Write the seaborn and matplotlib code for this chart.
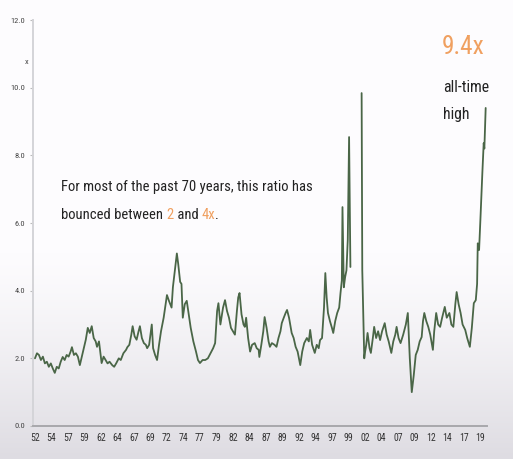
import numpy as np
import pandas as pd
import matplotlib
matplotlib.use("Agg")
import matplotlib.pyplot as plt
import seaborn as sns

# Ratio history, 1952 onward (two stretches; no readings between late 1999 and mid 2001)
years_a = [
    1952.0, 1952.3, 1952.6, 1952.9, 1953.2, 1953.5, 1953.8, 1954.1, 1954.4, 1954.7,
    1955.0, 1955.3, 1955.6, 1955.9, 1956.2, 1956.5, 1956.8, 1957.1, 1957.4, 1957.6,
    1957.9, 1958.2, 1958.5, 1958.8, 1959.1, 1959.4, 1959.7, 1960.0, 1960.3, 1960.6,
    1960.9, 1961.2, 1961.4, 1961.7, 1962.1, 1962.4, 1962.7, 1963.0, 1963.3, 1963.7,
    1964.0, 1964.3, 1964.7, 1965.0, 1965.4, 1965.8, 1966.0, 1966.3, 1966.6, 1966.8,
    1967.1, 1967.4, 1967.7, 1967.9, 1968.2, 1968.5, 1968.8, 1969.0, 1969.3, 1969.7,
    1969.9, 1970.2, 1970.5, 1970.8, 1971.1, 1971.5, 1971.8, 1972.0, 1972.3, 1972.7,
    1972.9, 1973.2, 1973.5, 1973.7, 1974.0, 1974.2, 1974.4, 1974.7, 1975.0, 1975.3,
    1975.6, 1976.0, 1976.4, 1976.7, 1977.0, 1977.4, 1977.8, 1978.2, 1978.6, 1979.0,
    1979.3, 1979.6, 1979.8, 1980.1, 1980.5, 1980.8, 1981.1, 1981.4, 1981.7, 1982.0,
    1982.3, 1982.6, 1982.8, 1983.0, 1983.3, 1983.6, 1983.8, 1984.0, 1984.3, 1984.6,
    1984.9, 1985.3, 1985.6, 1985.9, 1986.0, 1986.3, 1986.6, 1986.8, 1987.1, 1987.4,
    1987.6, 1987.9, 1988.3, 1988.6, 1988.9, 1989.2, 1989.4, 1989.7, 1990.0, 1990.2,
    1990.5, 1990.9, 1991.2, 1991.5, 1991.8, 1992.2, 1992.5, 1992.8, 1993.2, 1993.5,
    1993.7, 1994.0, 1994.4, 1994.7, 1995.0, 1995.2, 1995.5, 1995.8, 1996.0, 1996.2,
    1996.4, 1996.7, 1997.0, 1997.2, 1997.5, 1997.8, 1998.1, 1998.3, 1998.5, 1998.6,
    1998.8, 1999.0, 1999.2, 1999.4, 1999.6, 1999.8,
]
ratio_a = [
    2.00, 2.15, 2.10, 1.95, 2.05, 1.85, 1.90, 1.75, 1.85, 1.70,
    1.57, 1.75, 1.70, 1.90, 2.04, 1.95, 2.10, 2.05, 2.20, 2.33,
    2.10, 2.15, 2.05, 1.80, 2.05, 2.30, 2.55, 2.90, 2.75, 2.95,
    2.60, 2.50, 2.34, 2.50, 1.86, 2.05, 1.95, 1.85, 1.90, 1.80,
    1.75, 1.85, 2.00, 1.95, 2.15, 2.25, 2.33, 2.40, 2.70, 2.95,
    2.65, 2.55, 2.80, 2.95, 2.60, 2.45, 2.40, 2.30, 2.40, 3.00,
    2.30, 2.10, 1.95, 2.40, 2.80, 3.20, 3.60, 3.87, 3.70, 3.50,
    4.10, 4.60, 5.10, 4.80, 4.26, 4.20, 3.20, 3.60, 3.70, 3.30,
    2.90, 2.50, 2.20, 1.95, 1.86, 1.95, 1.95, 2.00, 2.15, 2.30,
    2.45, 3.40, 3.63, 3.00, 3.50, 3.72, 3.40, 3.20, 2.90, 2.80,
    2.70, 3.40, 3.80, 3.93, 3.30, 3.00, 2.93, 3.20, 2.60, 2.20,
    2.40, 2.45, 2.30, 2.25, 2.04, 2.40, 2.80, 3.22, 2.90, 2.50,
    2.34, 2.45, 2.40, 2.34, 2.60, 2.80, 3.04, 3.20, 3.35, 3.43,
    3.20, 2.75, 2.60, 2.34, 2.20, 1.80, 2.20, 2.45, 2.60, 2.50,
    2.84, 2.40, 2.16, 2.40, 2.30, 2.54, 2.60, 3.50, 4.52, 3.80,
    3.34, 3.10, 2.90, 2.75, 3.10, 3.34, 3.50, 3.93, 4.30, 6.47,
    4.10, 4.40, 4.60, 5.50, 8.54, 4.70,
]
years_b = [
    2001.5, 2001.6, 2001.9, 2002.0, 2002.2, 2002.4, 2002.7, 2002.9, 2003.2, 2003.4,
    2003.7, 2004.0, 2004.3, 2004.6, 2005.0, 2005.3, 2005.6, 2006.0, 2006.3, 2006.6,
    2006.8, 2007.1, 2007.4, 2007.8, 2008.2, 2008.5, 2008.8, 2009.1, 2009.4, 2009.7,
    2010.0, 2010.3, 2010.6, 2010.8, 2011.0, 2011.3, 2011.6, 2011.9, 2012.3, 2012.5,
    2012.8, 2013.1, 2013.4, 2013.7, 2014.1, 2014.4, 2014.8, 2015.1, 2015.4, 2015.7,
    2015.9, 2016.2, 2016.5, 2016.8, 2017.2, 2017.5, 2017.9, 2018.2, 2018.5, 2018.8,
    2019.0, 2019.1, 2019.3, 2019.5, 2019.8, 2020.0, 2020.1, 2020.3,
]
ratio_b = [
    9.84, 4.60, 2.00, 2.16, 2.40, 2.75, 2.30, 2.16, 2.60, 2.93,
    2.60, 2.80, 2.54, 2.80, 3.04, 2.70, 2.50, 2.16, 2.50, 2.70,
    2.93, 2.60, 2.45, 2.70, 3.00, 3.34, 2.00, 1.00, 1.50, 2.10,
    2.25, 2.50, 2.63, 3.10, 3.34, 3.10, 2.93, 2.70, 2.25, 2.80,
    3.34, 3.00, 2.93, 3.20, 3.52, 3.20, 3.34, 3.00, 2.93, 3.60,
    3.96, 3.60, 3.34, 3.00, 2.84, 2.60, 2.34, 2.90, 3.63, 3.72,
    4.20, 5.40, 5.20, 6.10, 7.50, 8.36, 8.20, 9.40,
]

tick_years = [1952 + 2.5 * i for i in range(28)]
tick_labels = ["52", "54", "57", "59", "62", "64", "67", "69", "72", "74",
               "77", "79", "82", "84", "87", "89", "92", "94", "97", "99",
               "02", "04", "07", "09", "12", "14", "17", "19"]
y_ticks = [0, 2, 4, 6, 8, 10, 12]

df = pd.DataFrame({
    "year": years_a + years_b,
    "ratio": ratio_a + ratio_b,
    "segment": ["a"] * len(years_a) + ["b"] * len(years_b),
})

sns.set_theme(style="white")
FONT = ["Roboto Condensed", "Liberation Sans Narrow", "Lato", "DejaVu Sans"]
plt.rcParams["font.family"] = FONT

W, H = 513, 459
fig = plt.figure(figsize=(W / 100, H / 100), dpi=100)

# soft vertical background shading, white at top to light grey at the bottom
bg = fig.add_axes([0, 0, 1, 1], zorder=-10)
grad = np.concatenate([np.zeros(250), np.linspace(0, 1, 209) ** 1.3])[:, None]
bg.imshow(grad, aspect="auto", cmap=matplotlib.colors.LinearSegmentedColormap.from_list(
    "bgshade", ["#fdfcfe", "#dedce2"]), extent=[0, 1, 0, 1], origin="upper")
bg.set_axis_off()

def fx(px):
    return px / W

def fy(py):
    return 1 - py / H

ax = fig.add_axes([fx(33), fy(426), fx(487) - fx(33), fy(20) - fy(426)])
ax.patch.set_alpha(0)

sns.lineplot(data=df, x="year", y="ratio", units="segment", estimator=None,
             color="#4a6647", linewidth=1.3, ax=ax, legend=False)

ax.set_xlim(1951.7, 2020.5)
ax.set_ylim(0, 12)
ax.set_xlabel("")
ax.set_ylabel("")
ax.set_yticks(y_ticks)
ax.set_yticklabels([f"{v:.1f}" for v in y_ticks], fontsize=6, color="#444444", family=FONT)
ax.set_xticks(tick_years)
ax.set_xticklabels(tick_labels, fontsize=7, color="#333333", family=FONT)
ax.tick_params(axis="y", length=2.5, width=0.8, color="#bbbbbb", pad=3, left=True)
ax.tick_params(axis="x", length=0, pad=5)
for side in ["top", "right"]:
    ax.spines[side].set_visible(False)
ax.spines["left"].set_color("#d4d4d8")
ax.spines["left"].set_linewidth(1.4)
ax.spines["bottom"].set_color("#a8a8ac")
ax.spines["bottom"].set_linewidth(1.4)

fig.text(fx(27), fy(62), "x", fontsize=6, color="#444444", ha="center", va="center", family=FONT)

fig.canvas.draw()
renderer = fig.canvas.get_renderer()


def fitted_size(text, target_px, base=10.0):
    probe = fig.text(0, 0, text, fontsize=base, family=FONT)
    w = probe.get_window_extent(renderer).width
    probe.remove()
    return base * target_px / w


# call-out text
orange = "#f0a060"
big = fitted_size("9.4x", 43)
small = fitted_size("all-time", 46)
body = fitted_size("For most of the past 70 years, this ratio has", 250)

fig.text(fx(442), fy(47), "9.4x", fontsize=big, color=orange, ha="left", va="center", family=FONT)
fig.text(fx(443), fy(88), "all-time", fontsize=small, color="#222222", ha="left", va="center", family=FONT)
fig.text(fx(443), fy(115), "high", fontsize=small, color="#222222", ha="left", va="center", family=FONT)

fig.text(fx(61), fy(187), "For most of the past 70 years, this ratio has", fontsize=body,
         color="#222222", ha="left", va="center", family=FONT)

x_cur = 61
for piece, col in [("bounced between ", "#222222"), ("2", orange), (" and ", "#222222"),
                   ("4x", orange), (".", "#222222")]:
    t = fig.text(fx(x_cur), fy(215), piece, fontsize=body, color=col, ha="left",
                 va="center", family=FONT)
    bb = t.get_window_extent(renderer)
    x_cur += bb.width

fig.savefig("out.png", dpi=100)
